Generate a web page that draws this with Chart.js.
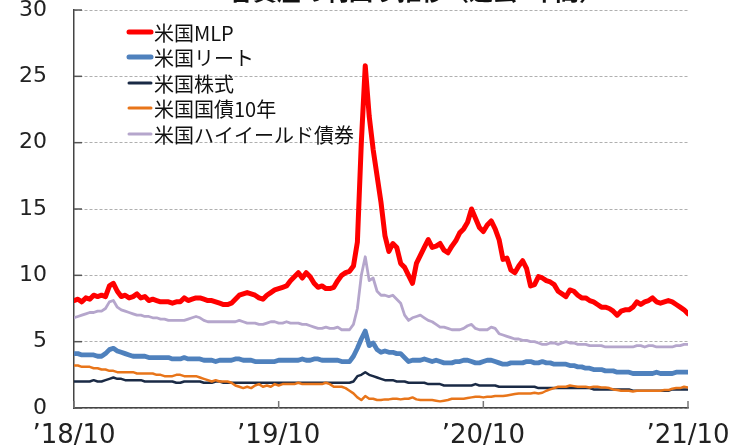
<!DOCTYPE html>
<html><head><meta charset="utf-8">
<script src="https://cdn.jsdelivr.net/npm/chart.js@4"></script>
<style>html,body{margin:0;padding:0;background:#fff;}canvas{display:block;}</style>
</head><body>
<canvas id="c" width="731" height="445"></canvas>
<script>
const chartTitle = "各資産の利回り推移（過去3年間）";
const seriesNames = ["米国MLP","米国リート","米国株式","米国国債10年","米国ハイイールド債券"];
const tickLabels = ["’18/10","’19/10","’20/10","’21/10"];
const tickWeeks = [0,52,104,156];

const mlp = [8.1,8.2,8.0,8.3,8.2,8.5,8.4,8.5,8.4,9.2,9.4,8.8,8.4,8.5,8.3,8.4,8.6,8.3,8.4,8.1,
8.2,8.1,8.0,8.0,8.0,7.9,8.0,8.0,8.3,8.1,8.2,8.3,8.3,8.2,8.1,8.1,8.0,7.9,7.8,7.8,
7.9,8.2,8.5,8.6,8.7,8.6,8.5,8.3,8.2,8.5,8.7,8.9,9.0,9.1,9.2,9.6,9.9,10.2,9.8,10.2,
9.9,9.4,9.1,9.2,9.0,9.0,9.1,9.6,10.0,10.2,10.3,10.7,12.5,20.0,25.8,22.0,19.5,17.5,15.5,13.0,
11.8,12.4,12.1,10.9,10.6,10.0,9.4,10.9,11.5,12.1,12.7,12.1,12.2,12.4,11.9,11.7,12.2,12.6,13.2,13.5,
14.0,15.0,14.3,13.6,13.3,13.8,14.1,13.5,12.7,11.2,11.3,10.4,10.2,10.7,11.1,10.5,9.2,9.3,9.9,9.8,
9.6,9.5,9.3,8.8,8.6,8.4,8.9,8.8,8.5,8.3,8.3,8.1,8.0,7.8,7.6,7.6,7.5,7.3,7.0,7.3,
7.4,7.4,7.6,8.0,7.8,8.0,8.1,8.3,8.0,7.9,8.0,8.1,8.0,7.8,7.6,7.4,7.1];

const reit = [4.1,4.1,4.0,4.0,4.0,4.0,3.9,3.9,4.1,4.4,4.5,4.3,4.2,4.1,4.0,3.9,3.9,3.9,3.9,3.8,
3.8,3.8,3.8,3.8,3.8,3.7,3.7,3.7,3.8,3.7,3.7,3.7,3.7,3.6,3.6,3.6,3.5,3.6,3.6,3.6,
3.6,3.7,3.7,3.6,3.6,3.6,3.5,3.5,3.5,3.5,3.5,3.5,3.6,3.6,3.6,3.6,3.6,3.6,3.7,3.6,
3.6,3.7,3.7,3.6,3.6,3.6,3.6,3.6,3.5,3.5,3.5,3.9,4.5,5.2,5.8,4.7,4.9,4.4,4.2,4.3,
4.2,4.2,4.1,4.1,3.8,3.5,3.6,3.6,3.6,3.7,3.6,3.5,3.6,3.5,3.4,3.4,3.4,3.5,3.5,3.6,
3.6,3.5,3.4,3.4,3.5,3.6,3.6,3.5,3.4,3.3,3.3,3.4,3.4,3.4,3.4,3.5,3.5,3.4,3.4,3.5,
3.4,3.4,3.3,3.3,3.3,3.3,3.2,3.2,3.1,3.1,3.0,3.0,2.9,2.9,2.9,2.8,2.8,2.8,2.7,2.7,
2.7,2.7,2.6,2.6,2.6,2.6,2.6,2.6,2.7,2.6,2.6,2.6,2.6,2.7,2.7,2.7,2.7];

const stocks = [2.0,2.0,2.0,2.0,2.0,2.1,2.0,2.0,2.1,2.2,2.3,2.2,2.2,2.1,2.1,2.1,2.1,2.1,2.0,2.0,
2.0,2.0,2.0,2.0,2.0,2.0,1.9,1.9,2.0,2.0,2.0,2.0,2.0,1.9,1.9,1.9,2.0,2.0,1.9,1.9,
1.9,1.9,1.9,1.9,1.9,1.9,1.9,1.9,1.9,1.9,1.9,1.9,1.9,1.9,1.9,1.9,1.9,1.9,1.9,1.9,
1.9,1.9,1.9,1.9,1.9,1.9,1.9,1.9,1.9,1.9,1.9,2.0,2.4,2.5,2.7,2.5,2.4,2.3,2.2,2.1,
2.1,2.1,2.0,2.0,2.0,1.9,1.9,1.9,1.9,1.9,1.8,1.8,1.8,1.8,1.7,1.7,1.7,1.7,1.7,1.7,
1.7,1.7,1.8,1.7,1.7,1.7,1.7,1.7,1.6,1.6,1.6,1.6,1.6,1.6,1.6,1.6,1.6,1.6,1.5,1.5,
1.5,1.5,1.5,1.5,1.5,1.5,1.5,1.5,1.5,1.5,1.5,1.5,1.4,1.4,1.4,1.4,1.4,1.4,1.4,1.4,
1.4,1.4,1.3,1.3,1.3,1.3,1.3,1.3,1.3,1.3,1.3,1.3,1.4,1.4,1.4,1.4,1.4];

const treasury10 = [3.2,3.2,3.1,3.1,3.1,3.0,3.0,2.9,2.9,2.8,2.8,2.7,2.7,2.7,2.7,2.7,2.6,2.6,2.6,2.6,
2.6,2.5,2.5,2.4,2.4,2.4,2.5,2.5,2.4,2.4,2.4,2.4,2.3,2.2,2.1,2.0,2.1,2.0,2.0,2.0,
1.9,1.7,1.6,1.5,1.6,1.5,1.7,1.8,1.6,1.7,1.6,1.8,1.7,1.8,1.8,1.8,1.8,1.9,1.8,1.8,
1.8,1.8,1.8,1.8,1.9,1.8,1.6,1.6,1.6,1.5,1.3,1.1,0.8,0.6,0.9,0.7,0.7,0.6,0.6,0.65,
0.65,0.7,0.7,0.65,0.7,0.7,0.8,0.65,0.6,0.6,0.6,0.6,0.55,0.5,0.55,0.6,0.7,0.7,0.7,0.7,
0.75,0.8,0.85,0.85,0.8,0.85,0.85,0.9,0.9,0.9,0.95,1.0,1.05,1.1,1.1,1.1,1.1,1.15,1.1,1.15,
1.3,1.4,1.5,1.6,1.6,1.6,1.7,1.65,1.6,1.6,1.6,1.55,1.6,1.6,1.55,1.55,1.5,1.4,1.35,1.3,
1.3,1.3,1.25,1.3,1.3,1.3,1.3,1.3,1.3,1.3,1.35,1.35,1.45,1.5,1.5,1.6,1.55];

const highYield = [6.8,6.9,7.0,7.1,7.2,7.2,7.3,7.3,7.5,8.0,8.1,7.6,7.4,7.3,7.2,7.1,7.0,7.0,6.9,6.9,
6.8,6.8,6.7,6.7,6.6,6.6,6.6,6.6,6.6,6.7,6.8,6.9,6.8,6.6,6.5,6.5,6.5,6.5,6.5,6.5,
6.5,6.5,6.6,6.5,6.4,6.4,6.4,6.3,6.3,6.4,6.5,6.5,6.4,6.4,6.5,6.4,6.4,6.4,6.3,6.3,
6.2,6.1,6.0,6.0,6.1,6.0,6.0,6.1,5.9,5.9,5.9,6.3,7.5,10.0,11.4,9.6,9.8,8.8,8.5,8.5,
8.4,8.5,8.2,7.9,7.0,6.6,6.8,6.9,7.0,6.8,6.6,6.5,6.3,6.1,6.1,6.0,5.9,5.9,5.9,6.0,
6.2,6.3,6.0,5.9,5.9,5.9,6.1,6.0,5.6,5.5,5.4,5.3,5.2,5.2,5.1,5.1,5.0,5.0,4.9,4.8,
4.8,4.9,4.9,4.8,4.9,5.0,4.9,4.9,4.8,4.8,4.8,4.7,4.7,4.7,4.7,4.6,4.6,4.6,4.6,4.6,
4.6,4.6,4.6,4.7,4.7,4.6,4.7,4.7,4.6,4.6,4.6,4.6,4.6,4.7,4.7,4.8,4.8];

const colors = ["#FF0000","#4F81BD","#1A2A45","#E8751A","#B5A6CC"];
const widths = [5,4.8,2.5,2.5,2.8];
const legendWidths = [5,5,3,3,3];
const orders = [1,2,4,3,5];
const seriesValues = [mlp, reit, stocks, treasury10, highYield];

const datasets = seriesValues.map((vals, k) => ({
  label: seriesNames[k],
  data: vals.map((v, i) => ({x: i, y: v})),
  borderColor: colors[k],
  backgroundColor: colors[k],
  borderWidth: widths[k],
  pointRadius: 0,
  tension: 0,
  borderJoinStyle: 'round',
  borderCapStyle: 'round',
  order: orders[k]
}));

const decor = {
  id: 'decor',
  afterDraw(chart) {
    const ctx = chart.ctx;
    const a = chart.chartArea;
    const xs = chart.scales.x, ys = chart.scales.y;
    ctx.save();
    ctx.strokeStyle = '#555';
    ctx.lineWidth = 1.5;
    ys.ticks.forEach(t => {
      const y = ys.getPixelForValue(t.value);
      ctx.beginPath(); ctx.moveTo(a.left, y); ctx.lineTo(a.left + 8, y); ctx.stroke();
    });
    ctx.strokeStyle = '#777';
    tickWeeks.forEach(w => {
      const x = xs.getPixelForValue(w);
      ctx.beginPath(); ctx.moveTo(x, a.bottom); ctx.lineTo(x, a.bottom - 7); ctx.stroke();
    });
    ctx.font = '20px "Noto Sans CJK JP"';
    ctx.textBaseline = 'middle';
    ctx.textAlign = 'left';
    const rows = [32, 57, 83, 108, 134];
    chart.data.datasets.forEach((d, k) => {
      const y = rows[k];
      ctx.strokeStyle = d.borderColor;
      ctx.lineWidth = legendWidths[k];
      ctx.lineCap = 'round';
      ctx.beginPath(); ctx.moveTo(129, y); ctx.lineTo(151, y); ctx.stroke();
      ctx.fillStyle = '#111';
      ctx.fillText(d.label, 154, y + 1);
    });
    ctx.font = 'bold 24px "Noto Sans CJK JP"';
    ctx.textAlign = 'center';
    ctx.textBaseline = 'alphabetic';
    ctx.fillStyle = '#111';
    ctx.fillText(chartTitle, 416, 0);
    ctx.restore();
  }
};

new Chart(document.getElementById('c'), {
  type: 'line',
  data: { datasets },
  options: {
    responsive: false,
    animation: false,
    devicePixelRatio: 1,
    layout: { padding: { top: 10, right: 43, left: 0, bottom: 0 } },
    plugins: { legend: { display: false }, tooltip: { enabled: false }, title: { display: false } },
    scales: {
      x: {
        type: 'linear',
        min: 0, max: 156,
        afterFit(s) { s.height = 37; s.paddingLeft = 0; s.paddingRight = 0; s.paddingTop = 0; s.paddingBottom = 0; },
        afterBuildTicks(s) { s.ticks = tickWeeks.map(v => ({value: v})); },
        ticks: {
          autoSkip: false, maxRotation: 0, padding: 13,
          color: '#222',
          font: { family: 'DejaVu Sans', size: 26 },
          callback: (v) => { const i = tickWeeks.indexOf(v); return i >= 0 ? tickLabels[i] : ''; }
        },
        grid: { display: false, drawTicks: false },
        border: { display: true, color: '#444', width: 1.5 }
      },
      y: {
        min: 0, max: 30,
        afterFit(s) { s.width = 74; s.paddingTop = 0; s.paddingBottom = 0; s.paddingLeft = 0; s.paddingRight = 0; },
        ticks: { stepSize: 5, padding: 27, color: '#222', font: { family: 'DejaVu Sans', size: 22 } },
        grid: { color: '#b0b0b0', lineWidth: 1, drawTicks: false },
        border: { display: true, color: '#444', width: 1.5, dash: [3, 2] }
      }
    }
  },
  plugins: [decor]
});
</script>
</body></html>
